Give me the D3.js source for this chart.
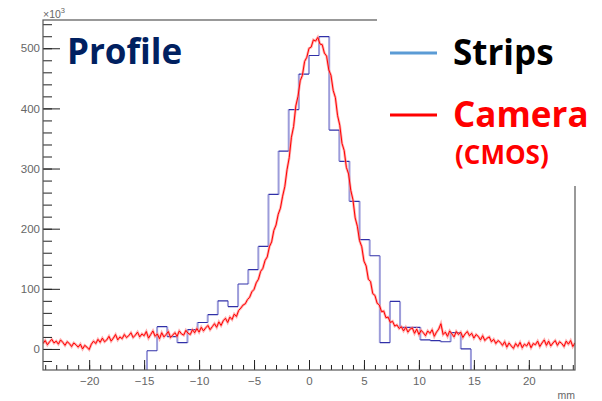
<!DOCTYPE html>
<html>
<head>
<meta charset="utf-8">
<script src="https://cdn.jsdelivr.net/npm/d3@7"></script>
<style>
  body { margin: 0; background: #fff; }
  svg { display: block; }
</style>
</head>
<body>
<div id="container"></div>
<script>
const width = 602;
const height = 401;
const margin = { top: 20, bottom: 31, left: 43, right: 27 };

// x axis (mm) and y axis (x10^3 counts)
const xDomain = [-24.2, 24.2];
const yDomain = [-35, 547];
const xMajor = [-20, -15, -10, -5, 0, 5, 10, 15, 20];
const yMajor = [0, 100, 200, 300, 400, 500];

// strips histogram: 32 bins starting at stripLo, width stripW (values x10^3)
const stripLo = -14.74;
const stripW = 0.921;
const strips = [-3, 37, 20.5, 10.5, 32, 44, 57, 80, 70.5, 108, 132, 170.5,
  257, 329, 398, 457, 488, 519.5, 364, 312, 245.5, 181.7, 155, 10.5,
  79, 36, 36, 15, 14, 12, 27, 0];

// camera (CMOS) profile sampled every camStep mm from camStart (values x10^3)
const camStart = -24.2;
const camStep = 0.2;
const camera = [
  9, 14, 7, 12, 16, 10, 13, 8, 15, 11,
  6, 12, 9, 4, 10, 7, 3, 8, 0, 6,
  3, -1, 8, 13, 9, 16, 11, 18, 12, 15,
  21, 13, 18, 24, 15, 20, 17, 24, 19, 22,
  27, 19, 23, 28, 20, 25, 22, 29, 18, 24,
  30, 21, 25, 17, 27, 20, 24, 29, 19, 23,
  27, 21, 30, 25, 23, 31, 26, 24, 32, 27,
  34, 28, 36, 30, 35, 39, 32, 37, 42, 36,
  45, 39, 47, 51, 44, 53, 49, 58, 54, 64,
  68, 73, 75, 82, 86, 95, 99, 110, 116, 129,
  134, 147, 153, 170, 178, 197, 206, 224, 234, 254,
  270, 298, 318, 352, 370, 404, 420, 446, 455, 478,
  485, 500, 502, 514, 512, 518, 507, 506, 492, 487,
  464, 455, 430, 418, 388, 372, 342, 330, 302, 291,
  264, 248, 218, 204, 180, 170, 146, 138, 116, 112,
  92, 89, 76, 73, 62, 63, 52, 53, 44, 46,
  38, 40, 34, 37, 30, 36, 28, 33, 35, 26,
  33, 24, 31, 27, 22, 30, 26, 32, 21, 28,
  33, 42, 24, 28, 21, 30, 25, 20, 29, 24,
  28, 19, 25, 29, 22, 26, 18, 24, 21, 15,
  22, 14, 18, 20, 12, 16, 9, 14, 11, 6,
  12, 3, 10, 5, 1, 9, 4, 11, 2, 8,
  5, 11, 2, 9, 7, 13, 4, 10, 15, 6,
  13, 5, 10, 14, 6, 12, 9, 4, 13, 8,
  14, 4, 10
];

const legendItems = [
  { label: "Strips", color: "#5b9bd5", text: "#000000" },
  { label: "Camera", color: "#ff0000", text: "#ff0000" }
];

const x = d3.scaleLinear().domain(xDomain).range([margin.left, width - margin.right]);
const y = d3.scaleLinear().domain(yDomain).range([height - margin.bottom, margin.top]);

const svg = d3.select("#container").append("svg")
  .attr("width", width)
  .attr("height", height);

svg.append("defs").append("clipPath").attr("id", "frame")
  .append("rect")
  .attr("x", margin.left).attr("y", margin.top)
  .attr("width", width - margin.left - margin.right)
  .attr("height", height - margin.top - margin.bottom);

const plot = svg.append("g").attr("clip-path", "url(#frame)");

// strips histogram as separate horizontal / vertical pieces
const edge = k => x(stripLo + k * stripW);
let hPath = "", vPath = "";
const yBottom = y(yDomain[0]);
strips.forEach((v, k) => {
  const prev = k === 0 ? null : y(strips[k - 1]);
  const yy = y(v);
  vPath += `M${edge(k)},${prev === null ? yBottom : prev}V${yy}`;
  hPath += `M${edge(k)},${yy}H${edge(k + 1)}`;
});
vPath += `M${edge(strips.length)},${y(strips[strips.length - 1])}V${yBottom}`;

plot.append("path").attr("d", vPath)
  .attr("fill", "none").attr("stroke", "#9c9cda").attr("stroke-width", 2);
plot.append("path").attr("d", hPath)
  .attr("fill", "none").attr("stroke", "#3030a8").attr("stroke-width", 1.2);

// camera curve
const camLine = d3.line()
  .x((d, i) => x(camStart + i * camStep))
  .y(d => y(d));

plot.append("path").datum(camera).attr("d", camLine)
  .attr("fill", "none").attr("stroke", "#ff8c8c").attr("stroke-width", 2.6)
  .attr("stroke-opacity", 0.7);
plot.append("path").datum(camera).attr("d", camLine)
  .attr("fill", "none").attr("stroke", "#ff0000").attr("stroke-width", 1);

// axes
const axisColor = "#555";
const labelColor = "#666";

const yMinor = d3.range(-20, 541, 20);
svg.append("g").attr("transform", `translate(${margin.left},0)`)
  .call(d3.axisLeft(y).tickValues(yMinor).tickSize(-9).tickFormat(""))
  .call(g => g.select(".domain").remove());
svg.append("g").attr("transform", `translate(${margin.left},0)`)
  .call(d3.axisLeft(y).tickValues(yMajor).tickSize(-17).tickPadding(3))
  .call(g => g.select(".domain").remove());

const xMinor = d3.range(-24, 25, 1);
svg.append("g").attr("transform", `translate(0,${height - margin.bottom})`)
  .call(d3.axisBottom(x).tickValues(xMinor).tickSize(-5).tickFormat(""))
  .call(g => g.select(".domain").remove());
svg.append("g").attr("transform", `translate(0,${height - margin.bottom})`)
  .call(d3.axisBottom(x).tickValues(xMajor).tickSize(-10).tickPadding(7))
  .call(g => g.select(".domain").remove());

svg.selectAll(".tick line").attr("stroke", "#222");
svg.selectAll(".tick text")
  .attr("fill", labelColor)
  .style("font-family", "'Liberation Sans', Arial, sans-serif")
  .style("font-size", "11.5px");

// frame
svg.append("rect")
  .attr("x", margin.left).attr("y", margin.top)
  .attr("width", width - margin.left - margin.right)
  .attr("height", height - margin.top - margin.bottom)
  .attr("fill", "none").attr("stroke", axisColor).attr("stroke-width", 1.2);

// axis titles
svg.append("text")
  .attr("x", width - margin.right).attr("y", 399)
  .attr("text-anchor", "end")
  .attr("fill", labelColor)
  .style("font-family", "'Liberation Sans', Arial, sans-serif")
  .style("font-size", "10.5px")
  .text("mm");

const expo = svg.append("text")
  .attr("x", margin.left).attr("y", 18)
  .attr("fill", labelColor)
  .style("font-family", "'Liberation Sans', Arial, sans-serif")
  .style("font-size", "10.5px");
expo.append("tspan").text("\u00d710");
expo.append("tspan").attr("dy", -5).style("font-size", "7.5px").text("3");

// title
svg.append("text")
  .attr("x", 67).attr("y", 64)
  .attr("fill", "#002060")
  .style("font-family", "'Open Sans', sans-serif")
  .style("font-weight", "bold")
  .style("font-size", "35px")
  .text("Profile");

// legend box (covers the upper right of the frame)
svg.append("rect")
  .attr("x", 377).attr("y", 0)
  .attr("width", width - 377).attr("height", 186)
  .attr("fill", "#fff");

const legend = svg.append("g");
legendItems.forEach((d, i) => {
  const ly = 53 + i * 62;
  legend.append("line")
    .attr("x1", 390).attr("x2", 437)
    .attr("y1", ly).attr("y2", ly)
    .attr("stroke", d.color).attr("stroke-width", 3);
  legend.append("text")
    .attr("x", 453).attr("y", ly + 12)
    .attr("fill", d.text)
    .style("font-family", "'Open Sans', sans-serif")
    .style("font-weight", "bold")
    .style("font-size", "35px")
    .text(d.label);
});
legend.append("text")
  .attr("x", 455).attr("y", 164)
  .attr("fill", "#ff0000")
  .style("font-family", "'Open Sans', sans-serif")
  .style("font-weight", "bold")
  .style("font-size", "26px")
  .text("(CMOS)");
</script>
</body>
</html>
